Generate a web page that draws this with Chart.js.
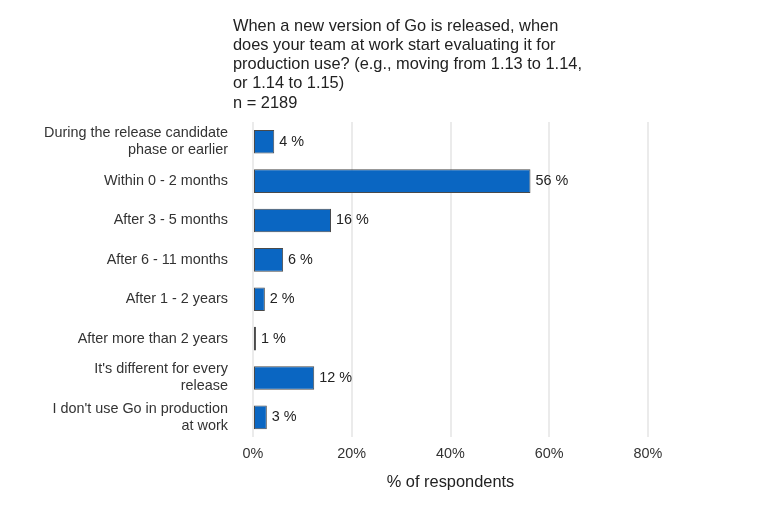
<!DOCTYPE html>
<html><head><meta charset="utf-8">
<script src="https://cdn.jsdelivr.net/npm/chart.js@4/dist/chart.umd.min.js"></script>
<style>html,body{margin:0;padding:0;background:#fff;}#wrap{width:767px;height:511px;}</style>
</head><body><div id="wrap"><canvas id="c" width="767" height="511"></canvas></div>
<script>
const categories = [
  ["During the release candidate", "phase or earlier"],
  "Within 0 - 2 months",
  "After 3 - 5 months",
  "After 6 - 11 months",
  "After 1 - 2 years",
  "After more than 2 years",
  ["It's different for every", "release"],
  ["I don't use Go in production", "at work"]
];
const values = [4.3, 56.2, 15.8, 6.1, 2.4, 0.6, 12.4, 2.8];
const valueLabels = ["4 %", "56 %", "16 %", "6 %", "2 %", "1 %", "12 %", "3 %"];
const xTicks = [0, 20, 40, 60, 80];
const titleLines = [
  "When a new version of Go is released, when",
  "does your team at work start evaluating it for",
  "production use? (e.g., moving from 1.13 to 1.14,",
  "or 1.14 to 1.15)"
];
const subtitle = "n = 2189";

const FONT = "'Liberation Sans', Arial, sans-serif";

const titlePlugin = {
  id: 'titlePlugin',
  afterDraw(chart) {
    const ctx = chart.ctx;
    ctx.save();
    ctx.fillStyle = '#222';
    ctx.font = '16.4px ' + FONT;
    ctx.textBaseline = 'middle';
    ctx.textAlign = 'left';
    const x = chart.chartArea.left - 20;
    const ys = [26, 45, 64, 83];
    titleLines.forEach((t, i) => ctx.fillText(t, x, ys[i]));
    ctx.fillText(subtitle, x, 103);
    ctx.restore();
  }
};

const labelPlugin = {
  id: 'labelPlugin',
  afterDatasetsDraw(chart) {
    const ctx = chart.ctx;
    const meta = chart.getDatasetMeta(0);
    ctx.save();
    ctx.fillStyle = '#222';
    ctx.font = '14.4px ' + FONT;
    ctx.textBaseline = 'middle';
    ctx.textAlign = 'left';
    meta.data.forEach((bar, i) => {
      ctx.fillText(valueLabels[i], bar.x + 5, bar.y);
    });
    ctx.restore();
  }
};

new Chart(document.getElementById('c'), {
  type: 'bar',
  data: {
    labels: categories,
    datasets: [{
      data: values,
      backgroundColor: '#0a66c2',
      borderColor: '#4a4a4a',
      borderWidth: 1,
      borderSkipped: false,
      categoryPercentage: 1,
      barPercentage: 0.6
    }]
  },
  options: {
    indexAxis: 'y',
    responsive: false,
    animation: false,
    devicePixelRatio: 1,
    layout: { padding: { top: 122, right: 119, left: 0, bottom: 0 } },
    plugins: { legend: { display: false }, tooltip: { enabled: false }, title: { display: false } },
    scales: {
      x: {
        min: 0, max: 80,
        afterBuildTicks(scale) { scale.ticks = xTicks.map(v => ({ value: v })); },
        afterFit(scale) { scale.height = 74; },
        grid: { color: '#ebebeb', lineWidth: 2, drawTicks: false },
        border: { display: false },
        ticks: { color: '#333', font: { size: 14.4, family: FONT }, padding: 8, callback: v => v + '%' },
        title: { display: true, text: '% of respondents', color: '#222', font: { size: 16.4, family: FONT }, padding: { bottom: 19, top: 0 } }
      },
      y: {
        afterFit(scale) { scale.width = 253; },
        grid: { display: false, drawTicks: false },
        border: { display: false },
        ticks: { color: '#333', font: { size: 14.4, family: FONT, lineHeight: 1.17 }, padding: 25, autoSkip: false }
      }
    }
  },
  plugins: [titlePlugin, labelPlugin]
});
</script></body></html>
